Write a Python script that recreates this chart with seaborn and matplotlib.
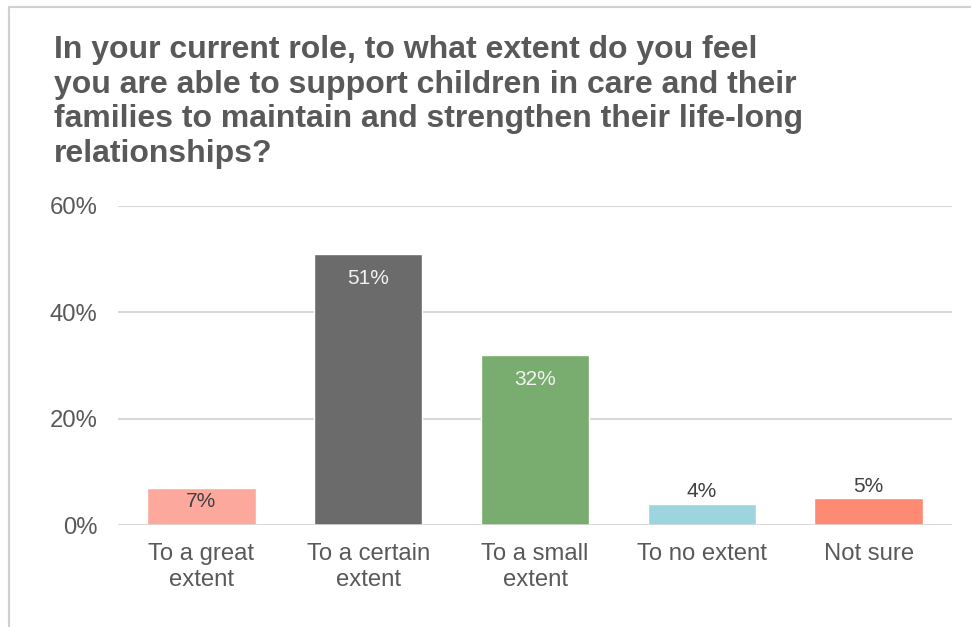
import matplotlib
matplotlib.use("Agg")
import matplotlib.pyplot as plt
from matplotlib.lines import Line2D
import seaborn as sns
import pandas as pd

# Survey responses
categories = ["To a great\nextent", "To a certain\nextent", "To a small\nextent",
              "To no extent", "Not sure"]
shares = [7, 51, 32, 4, 5]
bar_colors = ["#FDA89D", "#6B6B6B", "#78AD6F", "#9CD5DE", "#FF8A74"]
y_ticks = [0, 20, 40, 60]
title = ("In your current role, to what extent do you feel\n"
         "you are able to support children in care and their\n"
         "families to maintain and strengthen their life-long\n"
         "relationships?")

df = pd.DataFrame({"category": categories, "share": shares})

sns.set_style("white")
plt.rcParams["font.family"] = ["Liberation Sans", "DejaVu Sans"]

W, H = 971, 627
fig = plt.figure(figsize=(W / 100, H / 100), dpi=100)
ax = fig.add_axes([118 / W, (H - 525) / H, (952 - 118) / W, (525 - 206) / H])

sns.barplot(data=df, x="category", y="share", hue="category",
            palette=bar_colors, width=0.65, legend=False, ax=ax,
            saturation=1, zorder=2)

ax.set_ylim(0, 60)
ax.set_xlim(-0.5, len(categories) - 0.5)
ax.set_yticks(y_ticks)
ax.set_yticklabels([f"{t}%" for t in y_ticks])
ax.set_xlabel("")
ax.set_ylabel("")
ax.grid(axis="y", color="#D9D9D9", linewidth=1.5, zorder=0)
ax.set_axisbelow(True)
for side in ("top", "right", "left", "bottom"):
    ax.spines[side].set_visible(False)
ax.axhline(0, color="#D9D9D9", linewidth=1.8, zorder=3)
ax.tick_params(axis="both", length=0, colors="#595959", labelsize=17.2)
ax.tick_params(axis="y", pad=15)
ax.tick_params(axis="x", pad=13)
for lbl in ax.get_xticklabels():
    lbl.set_linespacing(1.25)

# Value labels: large bars get white text inside, small ones sit above
for i, v in enumerate(shares):
    if v >= 20:
        ax.annotate(f"{v}%", (i, v), xytext=(0, -18), textcoords="offset points",
                    ha="center", va="center", color="#F2F2F2", fontsize=15)
    elif v >= 6:
        ax.annotate(f"{v}%", (i, v), xytext=(0, -10), textcoords="offset points",
                    ha="center", va="center", color="#404040", fontsize=15)
    else:
        ax.annotate(f"{v}%", (i, v), xytext=(0, 8.5), textcoords="offset points",
                    ha="center", va="center", color="#404040", fontsize=15)

fig.text(54 / W, 1 - 35 / H, title, ha="left", va="top", fontsize=23,
         fontweight="bold", color="#595959", linespacing=1.2)

# Frame edges
fig.add_artist(Line2D([9 / W, 9 / W], [0, 1 - 7 / H], transform=fig.transFigure,
                      color="#D0D0D0", linewidth=1.5))
fig.add_artist(Line2D([9 / W, 1], [1 - 7 / H, 1 - 7 / H], transform=fig.transFigure,
                      color="#D0D0D0", linewidth=1.5))

fig.savefig("out.png", dpi=100)
